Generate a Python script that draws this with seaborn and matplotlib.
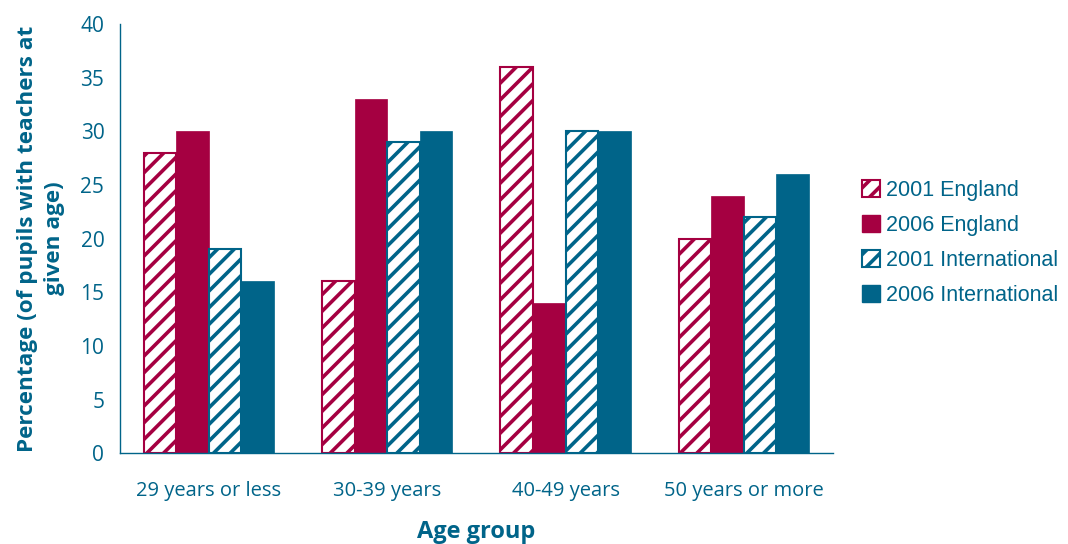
import matplotlib
matplotlib.use("Agg")
import matplotlib.pyplot as plt
import numpy as np
import pandas as pd
import seaborn as sns

# data
age_groups = ["29 years or less", "30-39 years", "40-49 years", "50 years or more"]
series = ["2001 England", "2006 England", "2001 International", "2006 International"]
eng_2001 = [28, 16, 36, 20]
eng_2006 = [30, 33, 14, 24]
int_2001 = [19, 29, 30, 22]
int_2006 = [16, 30, 30, 26]

crimson = "#A50041"
teal = "#006489"

df = pd.DataFrame({
    "age": age_groups * 4,
    "series": [s for s in series for _ in age_groups],
    "value": eng_2001 + eng_2006 + int_2001 + int_2006,
})

sns.set_style("white")
plt.rcParams["font.family"] = ["Open Sans", "DejaVu Sans"]
plt.rcParams["hatch.linewidth"] = 2.6

fig = plt.figure(figsize=(10.68, 5.44), dpi=100)
ax = fig.add_axes([0.112, 0.167, 0.668, 0.789])

palette = {series[0]: crimson, series[1]: crimson, series[2]: teal, series[3]: teal}
sns.barplot(data=df, x="age", y="value", hue="series", order=age_groups,
            hue_order=series, palette=palette, width=0.73, saturation=1,
            legend=False, ax=ax)

hatched = [True, False, True, False]
colors = [crimson, crimson, teal, teal]
for cont, h, c in zip(ax.containers, hatched, colors):
    for bar in cont:
        if h:
            bar.set_facecolor("white")
            bar.set_edgecolor(c)
            bar.set_hatch("//")
            bar.set_linewidth(1.5)
        else:
            bar.set_facecolor(c)
            bar.set_edgecolor(c)
            bar.set_linewidth(0.5)

ax.set_ylim(0, 40)
ax.set_xlim(-0.5, 3.5)
ax.set_yticks(np.arange(0, 41, 5))
ax.set_xticks(np.arange(-0.5, 4, 1), minor=True)
ax.tick_params(axis="x", which="major", length=0, pad=20, labelsize=14.5, colors=teal)
ax.tick_params(axis="x", which="minor", length=6, width=1, color=teal, direction="out")
ax.tick_params(axis="y", length=6, width=1, color=teal, direction="out", labelsize=15,
               labelcolor=teal, pad=5)

for side in ["top", "right"]:
    ax.spines[side].set_visible(False)
for side in ["left", "bottom"]:
    ax.spines[side].set_color(teal)
    ax.spines[side].set_linewidth(1)

ax.set_xlabel("Age group", fontsize=17, fontweight="bold", color=teal, labelpad=14)
ax.set_ylabel("Percentage (of pupils with teachers at\ngiven age)", fontsize=16.2,
              fontweight="bold", color=teal, multialignment="center", labelpad=11,
              linespacing=1.4)

handles = []
for h, c in zip(hatched, colors):
    if h:
        handles.append(plt.Rectangle((0, 0), 1, 1, facecolor="white", edgecolor=c,
                                     hatch="//", linewidth=1.5))
    else:
        handles.append(plt.Rectangle((0, 0), 1, 1, facecolor=c, edgecolor=c))
leg = ax.legend(handles, series, loc="center left", bbox_to_anchor=(1.02, 0.49),
                frameon=False, handlelength=0.8, handleheight=0.8, handletextpad=0.3,
                labelspacing=0.65, borderaxespad=0.3,
                prop={"family": ["Liberation Sans"], "size": 15.5})
for t in leg.get_texts():
    t.set_color(teal)

fig.savefig("out.png", dpi=100)
